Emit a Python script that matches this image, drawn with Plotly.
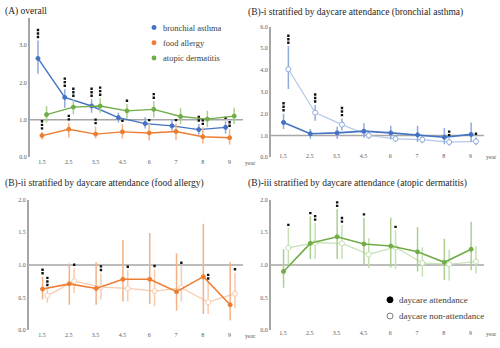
import plotly.graph_objects as go

W, H = 500, 348
FONT = "Liberation Serif, Times New Roman, serif"

years = ["1.5", "2.5", "3.5", "4.5", "6", "7", "8", "9"]

# (A) overall: odds ratio, 95% CI bounds and number of significance stars
asthma = [2.64, 1.60, 1.37, 1.06, 0.90, 0.84, 0.74, 0.80]
asthma_lo = [2.23, 1.32, 1.19, 0.93, 0.77, 0.71, 0.60, 0.63]
asthma_hi = [3.12, 1.82, 1.55, 1.19, 1.07, 1.02, 0.89, 0.96]
asthma_stars = [3, 3, 3, 0, 0, 0, 2, 1]

allergy = [0.58, 0.75, 0.62, 0.68, 0.65, 0.69, 0.55, 0.52]
allergy_lo = [0.47, 0.52, 0.50, 0.50, 0.45, 0.47, 0.37, 0.34]
allergy_hi = [0.68, 0.92, 0.82, 0.88, 0.90, 0.90, 0.80, 0.75]
allergy_stars = [3, 2, 2, 1, 1, 1, 2, 2]

derm = [1.14, 1.34, 1.37, 1.24, 1.28, 1.09, 1.02, 1.10]
derm_lo = [0.93, 1.15, 1.19, 1.03, 1.06, 0.89, 0.80, 0.89]
derm_hi = [1.37, 1.55, 1.58, 1.42, 1.50, 1.31, 1.24, 1.32]
derm_stars = [0, 3, 3, 1, 2, 0, 0, 0]

# (B)-i bronchial asthma by daycare attendance
att_ba = [1.60, 1.08, 1.12, 1.20, 1.12, 1.03, 0.92, 1.05]
att_ba_lo = [1.30, 0.85, 0.85, 0.90, 0.82, 0.70, 0.60, 0.70]
att_ba_hi = [2.00, 1.30, 1.40, 1.56, 1.45, 1.45, 1.35, 1.60]
att_ba_stars = [3, 0, 0, 0, 0, 0, 0, 0]
non_ba = [4.04, 2.05, 1.50, 1.00, 0.85, 0.81, 0.70, 0.73]
non_ba_lo = [3.13, 1.68, 1.23, 0.85, 0.70, 0.65, 0.54, 0.55]
non_ba_hi = [5.10, 2.40, 1.78, 1.15, 1.00, 0.97, 0.86, 0.92]
non_ba_stars = [3, 3, 3, 0, 0, 0, 2, 1]

# (B)-ii food allergy by daycare attendance
att_fa = [0.63, 0.71, 0.64, 0.78, 0.78, 0.59, 0.82, 0.39]
att_fa_lo = [0.47, 0.39, 0.39, 0.44, 0.40, 0.30, 0.25, 0.15]
att_fa_hi = [0.82, 1.02, 1.04, 1.38, 1.49, 1.18, 1.63, 1.04]
att_fa_stars = [2, 0, 0, 0, 0, 0, 0, 0]
non_fa = [0.53, 0.75, 0.66, 0.64, 0.60, 0.65, 0.43, 0.56]
non_fa_lo = [0.42, 0.57, 0.47, 0.44, 0.37, 0.44, 0.25, 0.34]
non_fa_hi = [0.64, 0.95, 0.87, 0.92, 0.93, 0.98, 0.74, 0.88]
non_fa_stars = [3, 1, 2, 1, 1, 1, 2, 1]

# (B)-iii atopic dermatitis by daycare attendance
att_ad = [0.90, 1.33, 1.43, 1.32, 1.29, 1.20, 1.04, 1.24]
att_ad_lo = [0.65, 1.09, 1.09, 1.00, 0.96, 0.90, 0.77, 0.92]
att_ad_hi = [1.24, 1.74, 1.85, 1.72, 1.72, 1.58, 1.40, 1.66]
att_ad_stars = [0, 1, 2, 1, 0, 0, 0, 0]
non_ad = [1.26, 1.34, 1.33, 1.16, 1.27, 1.03, 1.01, 1.05]
non_ad_lo = [1.00, 1.09, 1.09, 0.95, 0.94, 0.82, 0.76, 0.87]
non_ad_hi = [1.56, 1.64, 1.61, 1.41, 1.53, 1.27, 1.23, 1.29]
non_ad_stars = [1, 2, 2, 0, 1, 0, 0, 0]

titles = [
    "(A) overall",
    "(B)-i stratified by daycare attendance (bronchial asthma)",
    "(B)-ii stratified by daycare attendance (food allergy)",
    "(B)-iii stratified by daycare attendance (atopic dermatitis)",
]

BLUE, BLUE_L, BLUE_XL = "#4472C4", "#8FAADC", "#B4C7E7"
ORANGE, ORANGE_L, ORANGE_XL = "#ED7D31", "#F4B183", "#F8CBAD"
GREEN, GREEN_L, GREEN_XL = "#70AD47", "#A9D18E", "#C5E0B4"
AXIS_GREY = "#A6A6A6"
TICK_GREY = "#595959"

CAT_PX = 26.8          # horizontal pixels per category step
STAR_GAP, STAR_STEP = 3.5, 3.6


def px_x(x):
    return x / W


def px_y(y):
    return 1 - y / H


# panel geometry in pixels: left edge of plot, right edge, top, bottom
panels = [
    dict(ax="", left=30, right=250, top=15, bottom=157, yr=(0, 3.727), dt=1.0,
         title=(3, 9), xlab_drop=0, ref_end=243),
    dict(ax="2", left=271, right=500, top=24, bottom=157, yr=(0, 6.0), dt=1.0,
         title=(246, 10), xlab_drop=-6, ref_end=484),
    dict(ax="3", left=29, right=250, top=200, bottom=333, yr=(0, 2.0), dt=0.5,
         title=(3, 184), xlab_drop=0, ref_end=243),
    dict(ax="4", left=271, right=500, top=200, bottom=333, yr=(0, 2.0), dt=0.5,
         title=(246, 184), xlab_drop=-2, ref_end=484),
]

series = [
    # panel index, values, lo, hi, stars, x offset, line colour, bar colour, hollow, line width
    (0, asthma, asthma_lo, asthma_hi, asthma_stars, -0.15, BLUE, BLUE_L, False, 1.4),
    (0, allergy, allergy_lo, allergy_hi, allergy_stars, 0.0, ORANGE, ORANGE_L, False, 1.4),
    (0, derm, derm_lo, derm_hi, derm_stars, 0.17, GREEN, GREEN_L, False, 1.4),
    (1, non_ba, non_ba_lo, non_ba_hi, non_ba_stars, 0.2, BLUE_XL, BLUE_L, True, 1.2),
    (1, att_ba, att_ba_lo, att_ba_hi, att_ba_stars, 0.02, BLUE, BLUE_L, False, 1.6),
    (2, non_fa, non_fa_lo, non_fa_hi, non_fa_stars, 0.2, ORANGE_XL, ORANGE_XL, True, 1.2),
    (2, att_fa, att_fa_lo, att_fa_hi, att_fa_stars, 0.02, ORANGE, ORANGE_L, False, 1.6),
    (3, non_ad, non_ad_lo, non_ad_hi, non_ad_stars, 0.2, GREEN_XL, GREEN_XL, True, 1.2),
    (3, att_ad, att_ad_lo, att_ad_hi, att_ad_stars, 0.02, GREEN, GREEN_L, False, 1.6),
]

fig = go.Figure()
layout = dict(
    width=W, height=H, margin=dict(l=0, r=0, t=0, b=0),
    paper_bgcolor="white", plot_bgcolor="white", showlegend=False,
    font=dict(family=FONT, color="#262626"),
)
shapes, annotations = [], []

for p in panels:
    span_px = p["right"] - p["left"]
    cat0 = (p["left"] + 12) if p["left"] > 250 else 42
    x0 = -(cat0 - p["left"]) / CAT_PX
    x1 = x0 + span_px / CAT_PX
    p["xr"] = (x0, x1)
    p["ppu"] = (p["bottom"] - p["top"]) / (p["yr"][1] - p["yr"][0])
    xa, ya = "xaxis" + p["ax"], "yaxis" + p["ax"]
    layout[xa] = dict(
        domain=[px_x(p["left"]), px_x(p["right"])], range=list(p["xr"]),
        anchor="free", position=px_y(p["bottom"] + p["xlab_drop"]),
        tickvals=list(range(len(years))), ticktext=years, ticks="",
        showline=False, showgrid=False, zeroline=False,
        tickfont=dict(size=6, color=TICK_GREY, family=FONT),
    )
    layout[ya] = dict(
        domain=[px_y(p["bottom"]), px_y(p["top"])], range=list(p["yr"]),
        anchor="x" + p["ax"], dtick=p["dt"], tick0=0, tickformat=".1f", ticks="",
        showline=True, linecolor=AXIS_GREY, linewidth=2,
        showgrid=False, zeroline=False,
        tickfont=dict(size=6, color=TICK_GREY, family=FONT),
    )
    # reference line at OR = 1
    shapes.append(dict(
        type="line", xref="x" + p["ax"], yref="y" + p["ax"],
        x0=x0, x1=x0 + (p["ref_end"] - p["left"]) / CAT_PX, y0=1, y1=1,
        line=dict(color=AXIS_GREY, width=1.5), layer="below",
    ))
    annotations.append(dict(
        text="year", xref="x" + p["ax"], yref="paper",
        x=x0 + (p["ref_end"] - p["left"]) / CAT_PX, y=px_y(p["bottom"] + p["xlab_drop"] + 6),
        xanchor="left", yanchor="middle", showarrow=False,
        font=dict(size=6, color=TICK_GREY, family=FONT),
    ))

for i, p in enumerate(panels):
    tx, ty = p["title"]
    annotations.append(dict(
        text=titles[i], xref="paper", yref="paper", x=px_x(tx), y=px_y(ty),
        xanchor="left", yanchor="middle", showarrow=False,
        font=dict(size=9.5, color="#262626", family=FONT),
    ))

for pi, vals, lo, hi, stars, off, lc, bc, hollow, lw in series:
    p = panels[pi]
    xs = [k + off for k in range(len(vals))]
    fig.add_trace(go.Scatter(
        x=xs, y=vals, mode="lines+markers",
        xaxis="x" + p["ax"], yaxis="y" + p["ax"],
        line=dict(color=lc, width=lw),
        marker=dict(
            symbol="circle", size=5 if hollow else 4,
            color="white" if hollow else lc,
            line=dict(color=bc if hollow else lc, width=1),
        ),
        error_y=dict(
            type="data", symmetric=False,
            array=[h - v for h, v in zip(hi, vals)],
            arrayminus=[v - l for v, l in zip(vals, lo)],
            color=bc, thickness=1.5, width=0,
        ),
        hoverinfo="skip",
    ))
    sx, sy = [], []
    for k, n in enumerate(stars):
        for j in range(n):
            sx.append(xs[k])
            sy.append(hi[k] + (STAR_GAP + j * STAR_STEP) / p["ppu"])
    if sx:
        fig.add_trace(go.Scatter(
            x=sx, y=sy, mode="markers",
            xaxis="x" + p["ax"], yaxis="y" + p["ax"],
            marker=dict(symbol="square", size=2.4, color="#111111", line=dict(width=0)),
            hoverinfo="skip",
        ))

# legend for panel (A)
legend_a = [("bronchial asthma", BLUE), ("food allergy", ORANGE), ("atopic dermatitis", GREEN)]
for j, (name, col) in enumerate(legend_a):
    cy = 25 + j * 15.5
    shapes.append(dict(type="circle", xref="paper", yref="paper",
                       x0=px_x(151.5), x1=px_x(156.5), y0=px_y(cy + 2.5), y1=px_y(cy - 2.5),
                       fillcolor=col, line=dict(color=col, width=0)))
    annotations.append(dict(text=name, xref="paper", yref="paper", x=px_x(161), y=px_y(cy),
                            xanchor="left", yanchor="middle", showarrow=False,
                            font=dict(size=8.5, color="#404040", family=FONT)))

# legend for daycare attendance
legend_b = [("daycare attendance", "black", "black"), ("daycare non-attendance", "white", "#7F7F7F")]
for j, (name, fill, edge) in enumerate(legend_b):
    cy = 302 + j * 16.5
    shapes.append(dict(type="circle", xref="paper", yref="paper",
                       x0=px_x(387), x1=px_x(393), y0=px_y(cy + 3), y1=px_y(cy - 3),
                       fillcolor=fill, line=dict(color=edge, width=1)))
    annotations.append(dict(text=name, xref="paper", yref="paper", x=px_x(397), y=px_y(cy),
                            xanchor="left", yanchor="middle", showarrow=False,
                            font=dict(size=9, color="#404040", family=FONT)))

layout["shapes"] = shapes
layout["annotations"] = annotations
fig.update_layout(**layout)
fig.write_html("out.html")
